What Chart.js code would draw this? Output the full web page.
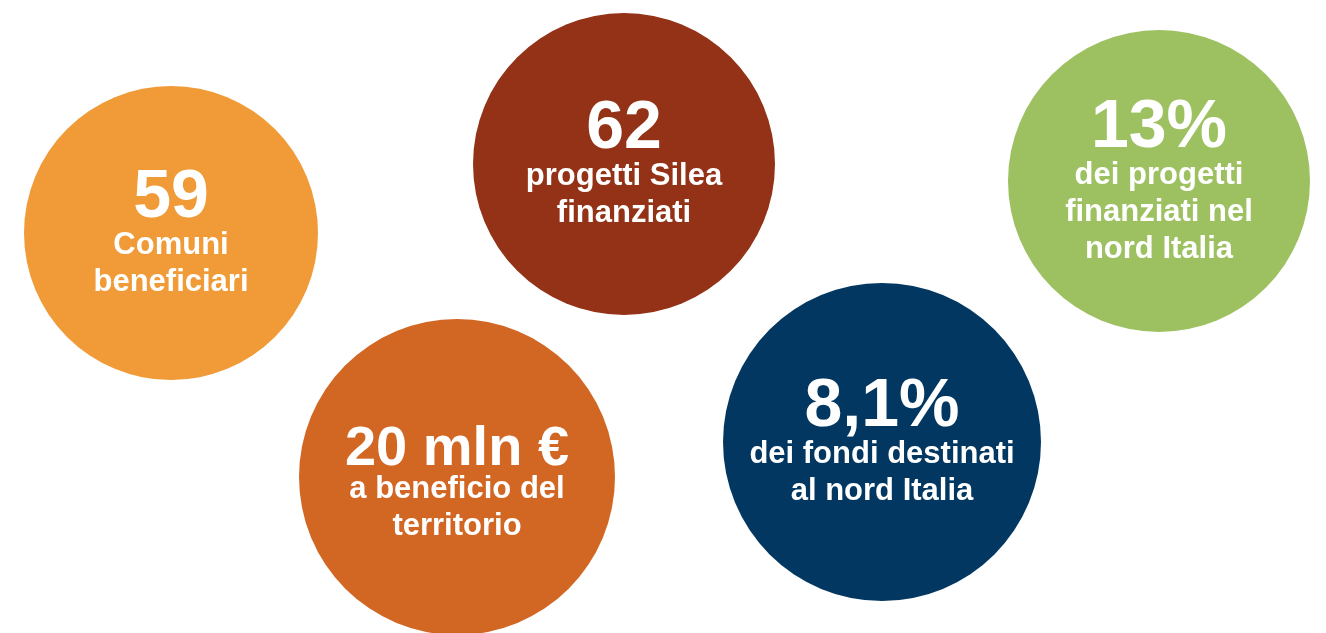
<!DOCTYPE html>
<html>
<head>
<meta charset="utf-8">
<script src="https://cdn.jsdelivr.net/npm/chart.js@4"></script>
<style>
  html, body { margin: 0; padding: 0; background: #ffffff; overflow: hidden; }
  #wrap { width: 1326px; height: 633px; }
</style>
</head>
<body>
<div id="wrap"><canvas id="bubbles" width="1326" height="633"></canvas></div>
<script>
// figures shown in the circles
const values = ['59', '62', '13%', '20 mln €', '8,1%'];
const captions = [
  ['Comuni', 'beneficiari'],
  ['progetti Silea', 'finanziati'],
  ['dei progetti', 'finanziati nel', 'nord Italia'],
  ['a beneficio del', 'territorio'],
  ['dei fondi destinati', 'al nord Italia']
];

// bubble placement (x, y on a 1326 x 633 grid) and radius
const xValues = [171, 624, 1159, 457, 882];
const yValues = [233, 164, 181, 477, 442];
const radii = [147, 151, 151, 158, 159];

const colors = ['#F09B37', '#943217', '#9DC161', '#D26724', '#023761'];

const points = xValues.map((x, i) => ({ x: x, y: yValues[i], r: radii[i] }));

// write the number + caption in the middle of each bubble
const bubbleText = {
  id: 'bubbleText',
  afterDatasetsDraw(chart) {
    const ctx = chart.ctx;
    const meta = chart.getDatasetMeta(0);
    const lineH = 37;
    ctx.save();
    ctx.fillStyle = '#ffffff';
    ctx.textAlign = 'center';
    ctx.textBaseline = 'alphabetic';
    meta.data.forEach((el, i) => {
      const lines = captions[i];
      const top = el.y - 16 - (lines.length - 2) * lineH / 2;
      // long figures get a smaller font so they stay inside the circle
      let size = 68;
      ctx.font = 'bold ' + size + 'px "Liberation Sans", Arial, sans-serif';
      const w = ctx.measureText(values[i]).width;
      if (w > 200) size = Math.round(size * 226 / w);
      ctx.font = 'bold ' + size + 'px "Liberation Sans", Arial, sans-serif';
      ctx.fillText(values[i], el.x, top + (68 - size) / 3);
      ctx.font = 'bold 31px "Liberation Sans", Arial, sans-serif';
      lines.forEach((t, j) => {
        ctx.fillText(t, el.x, top + lineH * (j + 1));
      });
    });
    ctx.restore();
  }
};

new Chart(document.getElementById('bubbles').getContext('2d'), {
  type: 'bubble',
  data: {
    datasets: [{
      data: points,
      backgroundColor: colors,
      borderWidth: 0,
      hoverBorderWidth: 0,
      clip: false
    }]
  },
  options: {
    responsive: false,
    animation: false,
    layout: { padding: 0, autoPadding: false },
    plugins: {
      legend: { display: false },
      tooltip: { enabled: false }
    },
    scales: {
      x: { type: 'linear', min: 0, max: 1326, display: false },
      y: { type: 'linear', min: 0, max: 633, reverse: true, display: false }
    }
  },
  plugins: [bubbleText]
});
</script>
</body>
</html>
